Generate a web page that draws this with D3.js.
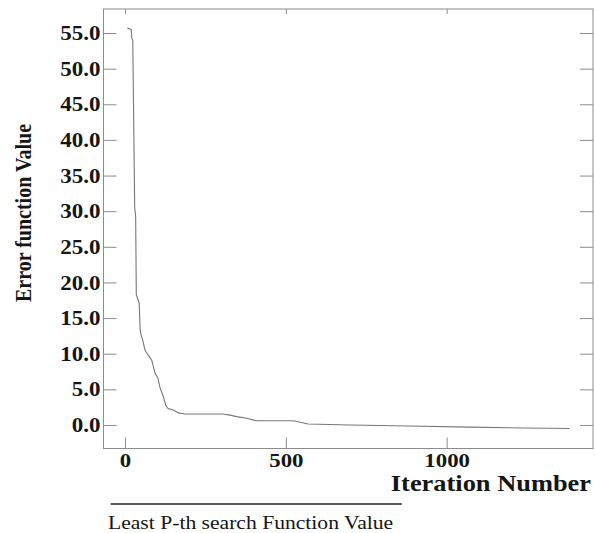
<!DOCTYPE html>
<html>
<head>
<meta charset="utf-8">
<script src="https://cdn.jsdelivr.net/npm/d3@7/dist/d3.min.js"></script>
<style>
  html, body { margin: 0; padding: 0; background: #fff; }
  svg { display: block; }
  text { font-family: "Liberation Serif", "Times New Roman", serif; fill: #151515; }
</style>
</head>
<body>
<svg id="chart" width="595" height="533"></svg>
<script>
// Convergence trace of the least p-th search
const iterations = [7, 19, 21, 24, 30, 33, 35, 40, 44, 47, 50, 55, 62, 72, 83, 88, 93, 102, 109, 119, 127, 134, 150, 166, 186, 305, 330, 347, 378, 409, 512, 528, 569, 699, 880, 1075, 1240, 1382];
const errorValues = [55.7, 55.5, 54.3, 54.0, 30.5, 29.3, 18.3, 17.6, 17.1, 13.3, 12.6, 11.9, 10.5, 9.8, 9.1, 8.2, 7.3, 6.6, 5.2, 4.0, 2.7, 2.3, 2.1, 1.7, 1.55, 1.55, 1.35, 1.17, 0.94, 0.6, 0.6, 0.56, 0.14, 0.0, -0.14, -0.3, -0.42, -0.5];

const xTicks = [0, 500, 1000];
const yTicks = [0, 5, 10, 15, 20, 25, 30, 35, 40, 45, 50, 55];

const xTitle = "Iteration Number";
const yTitle = "Error function Value";
const legendLabel = "Least P-th search Function Value";

const svg = d3.select("#chart");
const plotLeft = 103.5, plotRight = 593, plotTop = 9, plotBottom = 448.5;
const stretch = 1.18;

const x = d3.scaleLinear().domain([-67, 1455]).range([plotLeft, plotRight]);
const y = d3.scaleLinear().domain([-3.3, 58.37]).range([plotBottom, plotTop]);

// widen glyphs horizontally
function widen(sel, k) {
  sel.each(function () {
    const w = this.getComputedTextLength();
    d3.select(this).attr("textLength", w * k).attr("lengthAdjust", "spacingAndGlyphs");
  });
}

// frame
svg.append("rect")
  .attr("x", plotLeft).attr("y", plotTop)
  .attr("width", plotRight - plotLeft).attr("height", plotBottom - plotTop)
  .attr("fill", "none").attr("stroke", "#8c8c8c").attr("stroke-width", 1);

// left axis: inward ticks, labels outside
const gy = svg.append("g").attr("transform", `translate(${plotLeft},0)`)
  .call(d3.axisLeft(y).tickValues(yTicks).tickFormat(d3.format(".1f")).tickSizeInner(-13).tickSizeOuter(0).tickPadding(3));
gy.select(".domain").remove();
gy.selectAll("line").attr("stroke", "#8c8c8c");
gy.selectAll("text").attr("font-size", 20.5).attr("font-weight", "bold")
  .attr("font-family", "Liberation Serif, serif").attr("fill", "#151515");
widen(gy.selectAll("text"), 1.12);

// right axis: inward ticks only
const gyr = svg.append("g").attr("transform", `translate(${plotRight},0)`)
  .call(d3.axisRight(y).tickValues(yTicks).tickFormat("").tickSizeInner(-13).tickSizeOuter(0));
gyr.select(".domain").remove();
gyr.selectAll("line").attr("stroke", "#8c8c8c");

// bottom axis
const gx = svg.append("g").attr("transform", `translate(0,${plotBottom})`)
  .call(d3.axisBottom(x).tickValues(xTicks).tickFormat(d3.format("d")).tickSizeInner(-11).tickSizeOuter(0).tickPadding(5));
gx.select(".domain").remove();
gx.selectAll("line").attr("stroke", "#8c8c8c");
gx.selectAll("text").attr("font-size", 19).attr("font-weight", "bold")
  .attr("font-family", "Liberation Serif, serif").attr("fill", "#151515");
widen(gx.selectAll("text"), 1.2);

// top axis: short inward ticks
const gxt = svg.append("g").attr("transform", `translate(0,${plotTop})`)
  .call(d3.axisTop(x).tickValues(xTicks).tickFormat("").tickSizeInner(-5).tickSizeOuter(0));
gxt.select(".domain").remove();
gxt.selectAll("line").attr("stroke", "#8c8c8c");

// convergence curve
const pts = iterations.map((it, i) => [it, errorValues[i]]);
svg.append("path")
  .datum(pts)
  .attr("fill", "none")
  .attr("stroke", "#777")
  .attr("stroke-width", 1.1)
  .attr("d", d3.line().x(d => x(d[0])).y(d => y(d[1])));

// axis titles
const xt = svg.append("text")
  .attr("x", 591).attr("y", 490.5)
  .attr("text-anchor", "end")
  .attr("font-size", 24).attr("font-weight", "bold")
  .text(xTitle);
widen(xt, 1.1);

svg.append("text")
  .attr("transform", `translate(31,213) scale(${stretch},1) rotate(-90)`)
  .attr("text-anchor", "middle")
  .attr("font-size", 20).attr("font-weight", "bold")
  .text(yTitle);

// legend
svg.append("line")
  .attr("x1", 110.7).attr("x2", 401.7)
  .attr("y1", 504).attr("y2", 504)
  .attr("stroke", "#222").attr("stroke-width", 1.6);
const lt = svg.append("text")
  .attr("x", 108).attr("y", 529)
  .attr("font-size", 18)
  .text(legendLabel);
widen(lt, 1.2);
</script>
</body>
</html>
